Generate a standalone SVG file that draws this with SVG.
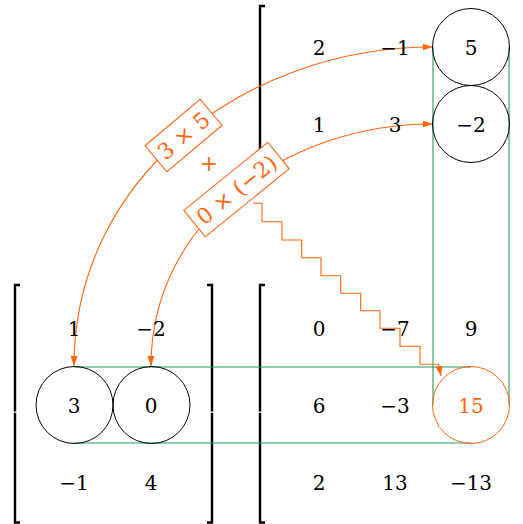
<svg xmlns="http://www.w3.org/2000/svg" width="523" height="524" viewBox="0 0 523 524">
<defs>
<marker id="ah" markerUnits="userSpaceOnUse" markerWidth="11" markerHeight="8" refX="10" refY="3.5" orient="auto-start-reverse"><path d="M0,0 L10,3.5 L0,7 z" fill="#ff6410"/></marker>
<style>
.num{font-family:"DejaVu Serif","Liberation Serif",serif;font-size:20px;text-anchor:middle;fill:#000}
.lab{font-size:22px}
.or{fill:#ff6410}
.br{fill:none;stroke:#000;stroke-width:2.4}
.gr{fill:none;stroke:#1f9e5c;stroke-width:1.1}
.cir{fill:none;stroke:#000;stroke-width:1}
.arr{fill:none;stroke:#ff6410;stroke-width:1.1}
.box{fill:#fff;stroke:#ff6410;stroke-width:1.1}
.gap{fill:#fff}
</style>
</defs>
<rect width="523" height="524" fill="#fff"/>
<g id="brackets">
<path class="br" d="M265,6 H260 V166 H265"/>
<path class="br" d="M20,285 H15 V522.5 H20"/>
<path class="br" d="M207,285 H212 V522.5 H207"/>
<path class="br" d="M265,285 H260 V522.5 H265"/>
<rect class="gap" x="11" y="411.6" width="8" height="1.2"/>
<rect class="gap" x="207" y="411.6" width="8" height="1.2"/>
<rect class="gap" x="250" y="411.6" width="14" height="1.2"/>
</g>
<g id="connectors">
<path class="gr" d="M433,47 V405 M509,47 V405"/>
<path class="gr" d="M74,367 H471 M74,443 H471"/>
<path class="arr" marker-start="url(#ah)" marker-end="url(#ah)" d="M74,366 C74,178 245,47 432.5,47"/>
<path class="arr" marker-start="url(#ah)" marker-end="url(#ah)" d="M151,366 C151,220.5 287.5,124 432.5,124"/>
<path class="arr" marker-end="url(#ah)" d="M253,203.3 H262 V221.7 H282 V240 H301.7 V257.7 H321 V275.7 H340.7 V293.3 H360.7 V310.7 H380 V328.3 H400 V346.3 H420 V364.3 H438.5 L441,376"/>
</g>
<g id="n3"><circle class="cir" cx="74.5" cy="405" r="38.5"/><text class="num" x="74" y="413">3</text></g>
<g id="n0"><circle class="cir" cx="151.5" cy="405" r="38.5"/><text class="num" x="151" y="413">0</text></g>
<g id="n5"><circle class="cir" cx="471" cy="47" r="38.5"/><text class="num" x="471" y="55">5</text></g>
<g id="nm2"><circle class="cir" cx="471" cy="124" r="38.5"/><text class="num" x="471" y="132">−2</text></g>
<g id="n15"><circle cx="471" cy="405" r="38.5" fill="none" stroke="#ff6410" stroke-width="1"/><text class="num or" x="471" y="413">15</text></g>
<g id="leftmatrix">
<text class="num" x="74" y="336">1</text><text class="num" x="151" y="336">−2</text>
<text class="num" x="74" y="490">−1</text><text class="num" x="151" y="490">4</text>
</g>
<g id="topmatrix">
<text class="num" x="319" y="55">2</text><text class="num" x="395" y="55">−1</text>
<text class="num" x="319" y="132">1</text><text class="num" x="395" y="132">3</text>
</g>
<g id="product">
<text class="num" x="319" y="336">0</text><text class="num" x="395" y="336">−7</text><text class="num" x="471" y="336">9</text>
<text class="num" x="319" y="413">6</text><text class="num" x="395" y="413">−3</text>
<text class="num" x="319" y="490">2</text><text class="num" x="395" y="490">13</text><text class="num" x="471" y="490">−13</text>
</g>
<g id="label1" transform="translate(183.5,135.5) rotate(-40)">
<rect class="box" x="-36" y="-17" width="72" height="34"/>
<text class="num lab or" x="0" y="8">3 × 5</text>
</g>
<g id="plus"><text class="num lab or" x="209" y="171">+</text></g>
<g id="label2" transform="translate(236.5,189.5) rotate(-39)">
<rect class="box" x="-54" y="-17" width="108" height="34"/>
<text class="num lab or" x="0" y="8">0 × (−2)</text>
</g>
</svg>
